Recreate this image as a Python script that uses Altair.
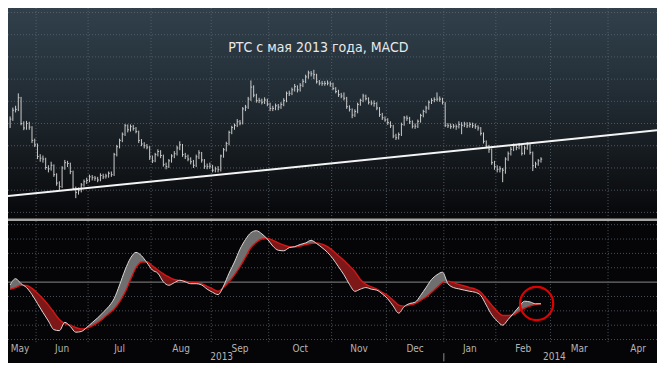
import altair as alt
import pandas as pd

# ---------------- data ----------------
first_day = -10  # trading-day index of first visible bar (index 0 = first trading day of June 2013)

closes = [
    1410, 1430, 1432, 1458, 1400, 1390, 1400, 1392, 1362, 1352,
    1326, 1322, 1320, 1301, 1298, 1306, 1285, 1266, 1258, 1300,
    1312, 1310, 1292, 1254, 1245, 1249, 1262, 1269, 1272, 1280,
    1278, 1277, 1273, 1283, 1280, 1282, 1288, 1285, 1330, 1348,
    1362, 1376, 1395, 1386, 1393, 1389, 1382, 1362, 1354, 1350,
    1347, 1325, 1316, 1330, 1337, 1328, 1308, 1303, 1316, 1327,
    1332, 1345, 1352, 1330, 1326, 1320, 1314, 1306, 1325, 1334,
    1318, 1304, 1303, 1304, 1295, 1298, 1296, 1327, 1341, 1355,
    1380, 1391, 1396, 1404, 1401, 1433, 1437, 1455, 1482, 1464,
    1452, 1452, 1448, 1453, 1444, 1434, 1434, 1440, 1437, 1443,
    1452, 1468, 1468, 1476, 1483, 1476, 1486, 1495, 1505, 1514,
    1512, 1510, 1494, 1491, 1490, 1490, 1491, 1489, 1479, 1472,
    1465, 1462, 1457, 1438, 1432, 1419, 1427, 1443, 1452, 1462,
    1456, 1448, 1446, 1445, 1435, 1420, 1413, 1408, 1402, 1395,
    1372, 1368, 1375, 1398, 1413, 1412, 1404, 1394, 1394, 1405,
    1418, 1427, 1435, 1448, 1452, 1454, 1455, 1455, 1448, 1396,
    1395, 1393, 1394, 1393, 1398, 1396, 1399, 1395, 1398, 1395,
    1393, 1390, 1378, 1360, 1349, 1342, 1312, 1303, 1297, 1298,
    1295, 1320, 1332, 1342, 1350, 1346, 1351, 1333, 1345, 1352,
    1335, 1305, 1309, 1316, 1320,
]
highs = [
    1416, 1436, 1440, 1468, 1460, 1405, 1406, 1404, 1394, 1366,
    1355, 1331, 1328, 1323, 1306, 1314, 1308, 1288, 1270, 1304,
    1318, 1316, 1312, 1294, 1258, 1256, 1266, 1274, 1278, 1285,
    1284, 1282, 1280, 1288, 1287, 1287, 1292, 1292, 1334, 1352,
    1366, 1380, 1399, 1398, 1398, 1397, 1392, 1384, 1365, 1358,
    1354, 1349, 1328, 1334, 1342, 1340, 1330, 1312, 1320, 1331,
    1338, 1350, 1360, 1354, 1334, 1330, 1324, 1318, 1330, 1340,
    1336, 1320, 1310, 1312, 1307, 1303, 1304, 1330, 1345, 1359,
    1384, 1395, 1400, 1410, 1408, 1437, 1442, 1460, 1497, 1486,
    1467, 1458, 1456, 1459, 1456, 1447, 1440, 1445, 1444, 1448,
    1457, 1472, 1474, 1481, 1489, 1486, 1491, 1500, 1510, 1519,
    1518, 1521, 1512, 1498, 1496, 1496, 1497, 1495, 1492, 1482,
    1476, 1469, 1470, 1460, 1441, 1434, 1432, 1447, 1456, 1467,
    1465, 1459, 1452, 1452, 1448, 1437, 1424, 1416, 1412, 1405,
    1397, 1377, 1380, 1402, 1417, 1418, 1415, 1407, 1400, 1409,
    1422, 1431, 1440, 1452, 1457, 1459, 1470, 1461, 1458, 1448,
    1401, 1400, 1399, 1398, 1405, 1403, 1404, 1403, 1403, 1402,
    1400, 1396, 1392, 1380, 1362, 1352, 1344, 1316, 1306, 1304,
    1300, 1324, 1337, 1347, 1355, 1354, 1356, 1353, 1350, 1358,
    1355, 1337, 1314, 1320, 1324,
]
lows = [
    1390, 1406, 1425, 1428, 1396, 1385, 1386, 1386, 1356, 1347,
    1320, 1314, 1312, 1296, 1290, 1294, 1280, 1260, 1250, 1255,
    1296, 1302, 1286, 1250, 1232, 1240, 1245, 1258, 1264, 1268,
    1272, 1271, 1268, 1270, 1275, 1276, 1278, 1280, 1282, 1326,
    1344, 1358, 1372, 1380, 1382, 1384, 1378, 1356, 1349, 1344,
    1342, 1318, 1311, 1313, 1326, 1322, 1303, 1297, 1300, 1312,
    1322, 1328, 1340, 1325, 1320, 1315, 1308, 1300, 1302, 1320,
    1312, 1298, 1297, 1298, 1290, 1290, 1290, 1292, 1323, 1337,
    1351, 1376, 1386, 1392, 1396, 1398, 1428, 1433, 1451, 1459,
    1447, 1446, 1443, 1444, 1439, 1428, 1428, 1430, 1430, 1433,
    1439, 1448, 1462, 1464, 1472, 1470, 1472, 1482, 1491, 1501,
    1506, 1500, 1490, 1486, 1485, 1485, 1486, 1483, 1475, 1468,
    1460, 1457, 1452, 1433, 1427, 1412, 1415, 1423, 1440, 1448,
    1452, 1443, 1441, 1438, 1430, 1415, 1408, 1404, 1397, 1390,
    1367, 1363, 1364, 1372, 1395, 1406, 1399, 1389, 1388, 1390,
    1402, 1414, 1423, 1431, 1444, 1448, 1450, 1449, 1443, 1392,
    1390, 1388, 1389, 1386, 1389, 1376, 1392, 1390, 1391, 1390,
    1388, 1384, 1373, 1355, 1344, 1334, 1307, 1296, 1290, 1290,
    1268, 1287, 1316, 1328, 1338, 1340, 1342, 1328, 1330, 1341,
    1330, 1293, 1300, 1305, 1312,
]

# MACD sampled every 2nd trading day starting at index -10
macd_first, macd_step = -10, 2
macd = [
    -2.0, 2.4, -1.1, -3.8, -8.7, -14.9, -21.1, -27.1, -33.1, -33.8,
    -28.0, -30.9, -34.9, -34.4, -31.6, -28.2, -24.9, -21.1, -17.1, -11.6,
    -2.0, 8.4, 16.7, 20.7, 18.4, 13.5, 8.4, 6.2, 0.2, -2.2,
    -0.4, 1.3, 0.2, -1.1, -1.1, -2.0, -4.9, -7.1, -8.7, -2.7,
    6.2, 14.0, 22.9, 29.6, 34.4, 35.8, 33.6, 30.0, 25.1, 22.2,
    21.8, 24.0, 24.7, 26.2, 27.3, 29.1, 26.9, 24.0, 20.7, 16.2,
    10.7, 5.1, -1.6, -6.4, -4.9, -3.8, -4.9, -5.6, -8.2, -11.6,
    -16.7, -21.6, -17.1, -14.9, -14.0, -9.3, -3.8, 1.8, 5.1, 6.9,
    -1.1, -3.8, -4.7, -5.6, -6.4, -7.1, -9.3, -16.0, -22.7, -27.1,
    -30.0, -26.0, -21.6, -17.1, -13.3, -13.8, -15.1, -15.1,
]
signal = [
    -5.1, -3.8, -2.2, -2.4, -4.4, -7.8, -11.6, -16.0, -21.1, -26.0,
    -28.9, -30.0, -31.6, -32.7, -32.0, -30.4, -28.2, -25.3, -22.0, -18.7,
    -13.8, -7.1, 1.8, 10.0, 14.0, 14.2, 11.3, 8.4, 5.8, 3.6,
    1.8, 1.0, 0.7, 0.0, -0.4, -1.1, -2.9, -4.7, -6.4, -3.8,
    0.2, 5.1, 10.7, 17.3, 24.0, 27.8, 30.0, 30.4, 29.1, 27.3,
    25.8, 24.7, 24.4, 25.1, 26.2, 26.9, 27.3, 26.4, 24.7, 21.8,
    18.4, 15.1, 11.3, 7.3, 1.8, -1.6, -3.3, -4.9, -7.1, -9.3,
    -12.7, -16.0, -16.7, -16.0, -14.9, -12.7, -10.4, -7.1, -3.8, -0.4,
    0.7, -0.4, -1.6, -2.7, -3.8, -4.9, -7.1, -11.6, -16.0, -20.4,
    -23.3, -23.3, -22.7, -20.4, -18.2, -16.7, -15.6, -15.1,
]

month_names = ["May", "Jun", "Jul", "Aug", "Sep", "Oct", "Nov", "Dec", "Jan", "Feb", "Mar", "Apr"]
month_starts = [-21, 0, 19, 42, 64, 85, 108, 128, 149, 168, 188, 209, 231]
year_names = ["2013", "2014"]
year_pos = [67.3, 188.9]
year_break_day = 149

trend_idx = [-10.8, 226.4]
trend_val = [1236.6, 1384.7]

price_grid = [1200, 1250, 1300, 1350, 1400, 1450, 1500, 1550, 1600, 1650]
macd_grid = [-40, -30, -20, -10, 10, 20, 30, 40]

circle_idx = [182.4]
circle_val = [-14.9]

title_text = "РТС с мая 2013 года, MACD"

# ---------------- layout ----------------
W, H, PB = 649, 336, 19
TOP_H = 210.5
X_DOMAIN = [-10.77, 226.4]
P_DOMAIN = [903.7, 1660.1]
M_DOMAIN = [-43.1, 190.9]
FONT = "Liberation Sans Narrow, DejaVu Sans Condensed, Arial Narrow, sans-serif"

xs = alt.Scale(domain=X_DOMAIN, nice=False, zero=False)
ps = alt.Scale(domain=P_DOMAIN, nice=False, zero=False)
ms = alt.Scale(domain=M_DOMAIN, nice=False, zero=False)


def X(f):
    return alt.X(f, type="quantitative", scale=xs, axis=None)


one = pd.DataFrame({"a": [0]})
bounds = [s - 0.5 for s in month_starts]
vis_bounds = [b for b in bounds if X_DOMAIN[0] < b < X_DOMAIN[1]]
bdf = pd.DataFrame({"b": vis_bounds})
# month label centred in its month, kept fully inside the visible range
mids = [max((bounds[k] + bounds[k + 1]) / 2, X_DOMAIN[0] + 4.4) for k in range(len(month_names))]
months_df = pd.DataFrame({"name": month_names, "mid": mids})
years_df = pd.DataFrame({"name": year_names, "pos": year_pos})

bars_df = pd.DataFrame({
    "i": list(range(first_day, first_day + len(closes))),
    "close": closes, "high": highs, "low": lows,
})
macd_df = pd.DataFrame({
    "i": list(range(macd_first, macd_first + macd_step * len(macd), macd_step)),
    "macd": macd, "signal": signal,
})
trend_df = pd.DataFrame({"t": trend_idx, "v": trend_val})
circle_df = pd.DataFrame({"ci": circle_idx, "cv": circle_val})

grad = alt.LinearGradient(
    gradient="linear",
    stops=[
        alt.GradientStop(color="#31404b", offset=0),
        alt.GradientStop(color="#28353f", offset=0.25),
        alt.GradientStop(color="#1e272e", offset=0.5),
        alt.GradientStop(color="#151a1e", offset=0.7),
        alt.GradientStop(color="#0d0f12", offset=0.87),
        alt.GradientStop(color="#07070a", offset=1),
    ],
    x1=0, x2=0, y1=0, y2=1,
)

# ---------------- top panel ----------------
bg_top = alt.Chart(one).mark_rect(color=grad).encode(
    x=alt.value(0), x2=alt.value(W), y=alt.value(0), y2=alt.value(TOP_H)
)
grid_top_h = alt.Chart(pd.DataFrame({"p": price_grid})).mark_rule(
    color="#5a6570", strokeDash=[1, 2], strokeWidth=1, opacity=0.8
).encode(y=alt.Y("p:Q", scale=ps, axis=None))
grid_top_v = alt.Chart(bdf).mark_rule(
    color="#5a6570", strokeDash=[1, 2], strokeWidth=1, opacity=0.8
).encode(x=X("b"), y=alt.value(0), y2=alt.value(TOP_H))

bars = alt.Chart(bars_df).mark_rule(color="#cacaca", strokeWidth=1).encode(
    x=alt.X("i:Q", scale=xs, axis=alt.Axis(
        values=vis_bounds, labels=False, ticks=True, tickSize=3, tickColor="#9a9a9a",
        domain=True, domainColor="#8c8c8c", domainWidth=1, grid=False, title=None)),
    y=alt.Y("low:Q", scale=ps, axis=None),
    y2="high:Q",
)
close_ticks = alt.Chart(bars_df).transform_calculate(i2="datum.i + 0.45").mark_rule(
    color="#cacaca", strokeWidth=1
).encode(x=X("i"), x2="i2:Q", y=alt.Y("close:Q", scale=ps, axis=None))

trend = alt.Chart(trend_df).mark_line(color="#f4f4f4", strokeWidth=2, clip=True).encode(
    x=X("t"), y=alt.Y("v:Q", scale=ps, axis=None)
)
title = alt.Chart(one).mark_text(
    text=title_text, font=FONT, fontSize=14, color="#e8e8e8", align="center", baseline="middle"
).encode(x=alt.value(310.3), y=alt.value(40.2))

top = alt.layer(bg_top, grid_top_h, grid_top_v, bars, close_ticks, trend, title)

# ---------------- MACD panel ----------------
grid_bot_h = alt.Chart(pd.DataFrame({"m": macd_grid})).mark_rule(
    color="#4a5057", strokeDash=[1, 2], strokeWidth=1
).encode(y=alt.Y("m:Q", scale=ms, axis=None))
zero_line = alt.Chart(pd.DataFrame({"m": [0]})).mark_rule(
    color="#8a8a8a", strokeWidth=1
).encode(y=alt.Y("m:Q", scale=ms, axis=None))
grid_bot_v = alt.Chart(bdf).mark_rule(
    color="#4a5057", strokeDash=[1, 2], strokeWidth=1
).encode(x=X("b"), y=alt.value(213.1), y2=alt.value(H))

red_fill = alt.Chart(macd_df).mark_area(color="#7e1818", interpolate="monotone").encode(
    x=X("i"), y=alt.Y("macd:Q", scale=ms, axis=None), y2="signal:Q"
)
gray_fill = alt.Chart(macd_df).transform_calculate(
    lo="min(datum.macd, datum.signal)"
).mark_area(color="#6f6f6f", interpolate="monotone").encode(
    x=X("i"), y=alt.Y("macd:Q", scale=ms, axis=None), y2="lo:Q"
)
sig_line = alt.Chart(macd_df).mark_line(color="#d81414", strokeWidth=1.4, interpolate="monotone").encode(
    x=X("i"), y=alt.Y("signal:Q", scale=ms, axis=None)
)
macd_line = alt.Chart(macd_df).mark_line(color="#d8d8d8", strokeWidth=1, interpolate="monotone").encode(
    x=X("i"), y=alt.Y("macd:Q", scale=ms, axis=None)
)
circle = alt.Chart(circle_df).mark_point(
    shape="circle", filled=False, size=1100, color="#e00000", strokeWidth=2.2, opacity=1
).encode(x=X("ci"), y=alt.Y("cv:Q", scale=ms, axis=None))

separator = alt.Chart(one).mark_rule(color="#a6a6a6", strokeWidth=2.6).encode(
    x=alt.value(0), x2=alt.value(W), y=alt.value(211.8)
)
month_text = alt.Chart(months_df).mark_text(
    font=FONT, fontSize=10, color="#b4b4b4", align="center", baseline="middle"
).encode(x=X("mid"), y=alt.value(340.8), text="name:N")
year_text = alt.Chart(years_df).mark_text(
    font=FONT, fontSize=10, color="#b4b4b4", align="center", baseline="middle"
).encode(x=X("pos"), y=alt.value(348.8), text="name:N")
year_break = alt.Chart(pd.DataFrame({"b": [year_break_day - 0.5]})).mark_rule(
    color="#8c8c8c", strokeWidth=1
).encode(x=X("b"), y=alt.value(345.2), y2=alt.value(353.4))

bottom = alt.layer(grid_bot_h, zero_line, grid_bot_v, red_fill, gray_fill, sig_line,
                   macd_line, circle, separator, month_text, year_text, year_break)

chart = alt.layer(top, bottom).resolve_scale(y="independent").properties(
    width=W, height=H,
    autosize=alt.AutoSizeParams(type="none"),
    padding={"left": 0, "right": 0, "top": 0, "bottom": PB},
).configure(background="#050507").configure_view(strokeWidth=0, fill="#050507")

chart.save("out.html", embed_options={"renderer": "svg", "actions": False})
